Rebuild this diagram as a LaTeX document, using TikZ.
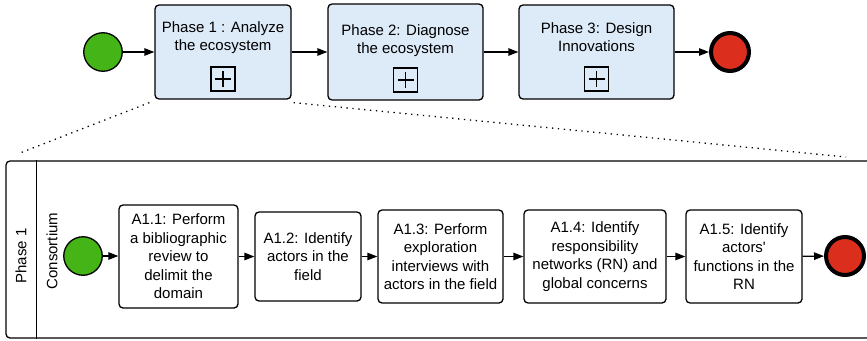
\documentclass[tikz,border=0pt]{standalone}
\usepackage{fontspec}
\setmainfont{Liberation Sans}
\usetikzlibrary{arrows.meta,positioning}
\definecolor{startgreen}{RGB}{68,180,22}
\definecolor{endred}{RGB}{220,46,28}
\definecolor{phaseblue}{RGB}{221,234,248}

\begin{document}
\begin{tikzpicture}[x=1pt,y=-1pt,>={Triangle[length=10pt,width=7.5pt]},
  every node/.style={font=\fontsize{15}{18.5}\selectfont},
  phase/.style={draw,line width=1.3pt,rounded corners=4pt,fill=phaseblue,inner sep=0pt},
  task/.style={draw,line width=1.3pt,rounded corners=4pt,fill=white,align=center,inner sep=0pt},
  subbox/.style={draw,line width=1.3pt,minimum size=24pt,inner sep=0pt,
    path picture={\draw[line width=1.3pt] ([yshift=-4pt]path picture bounding box.north)--([yshift=4pt]path picture bounding box.south);
      \draw[line width=1.3pt] ([xshift=4pt]path picture bounding box.west)--([xshift=-4pt]path picture bounding box.east);}},
  startev/.style={circle,draw,line width=1.3pt,fill=startgreen,minimum size=38.5pt,inner sep=0pt},
  endev/.style={circle,draw,line width=4pt,fill=endred,minimum size=38pt,inner sep=0pt},
  flow/.style={->,line width=1.3pt},
  zoomline/.style={line width=1.3pt,dash pattern=on 1.3pt off 4.6pt}]
  \useasboundingbox (0,0) rectangle (867,340);
  \clip (0,0) rectangle (867,340);

  % top level process
  \node[startev] (s0) at (103,52) {};
  \node[phase,minimum width=136pt,minimum height=94pt] (p1) at (223,52) {};
  \node[phase,minimum width=155pt,minimum height=96pt] (p2) at (405.5,52) {};
  \node[phase,minimum width=155pt,minimum height=94pt] (p3) at (596.5,52) {};
  \node[endev] (e0) at (730,52) {};

  \node[align=center] (p1t) at ([yshift=14.5pt]p1.center) {Phase 1 : Analyze\\the ecosystem};
  \node[align=center] (p2t) at ([yshift=11.5pt]p2.center) {Phase 2: Diagnose\\the ecosystem};
  \node[align=center] (p3t) at ([yshift=15pt]p3.center) {Phase 3: Design\\Innovations};
  \node[subbox] (p1s) at ([yshift=-27pt]p1.center) {};
  \node[subbox] (p2s) at ([yshift=-28pt]p2.center) {};
  \node[subbox] (p3s) at ([yshift=-27pt]p3.center) {};

  \draw[flow] (s0) -- (p1);
  \draw[flow] (p1) -- (p2);
  \draw[flow] (p2) -- (p3);
  \draw[flow] (p3) -- (e0);

  % expanded phase 1
  \node[draw,line width=1.3pt,rounded corners=4pt,minimum width=866pt,minimum height=177pt,inner sep=0pt] (pool) at (439,249.5) {};
  \draw[line width=1.3pt] ([xshift=31pt]pool.north west) -- ([xshift=31pt]pool.south west);
  \node[rotate=90] (pooll) at (21,256) {Phase 1};
  \node[rotate=90] (lanel) at (52,251) {Consortium};

  \coordinate (zl) at (20,153);
  \coordinate (zr) at (846,157);
  \draw[zoomline] ([xshift=-5pt,yshift=-3pt]p1.south west) -- (zl);
  \draw[zoomline] ([xshift=2pt,yshift=-3pt]p1.south east) -- (zr);

  \node[startev] (s1) at (83,256) {};
  \node[task,minimum width=119pt,minimum height=103pt] (a1) at (178.5,256.5) {A1.1: Perform\\a bibliographic\\review to\\delimit the\\domain};
  \node[task,minimum width=106pt,minimum height=89pt] (a2) at (308,256.5) {A1.2: Identify\\actors in the\\field};
  \node[task,minimum width=125pt,minimum height=93pt] (a3) at (440.5,256.5) {A1.3: Perform\\exploration\\interviews with\\actors in the field};
  \node[task,minimum width=142pt,minimum height=93pt] (a4) at (595,256.5) {A1.4: Identify\\responsibility\\networks (RN) and\\global concerns};
  \node[task,minimum width=116pt,minimum height=93pt] (a5) at (744,256.5) {A1.5: Identify\\actors\textquotesingle\\functions in the\\RN};
  \node[endev] (e1) at (845,256) {};

  \draw[flow] (s1) -- (s1 -| a1.west);
  \draw[flow] (a1) -- (a2);
  \draw[flow] (a2) -- (a3);
  \draw[flow] (a3) -- (a4);
  \draw[flow] (a4) -- (a5);
  \draw[flow] (a5) -- (e1);
\end{tikzpicture}
\end{document}
